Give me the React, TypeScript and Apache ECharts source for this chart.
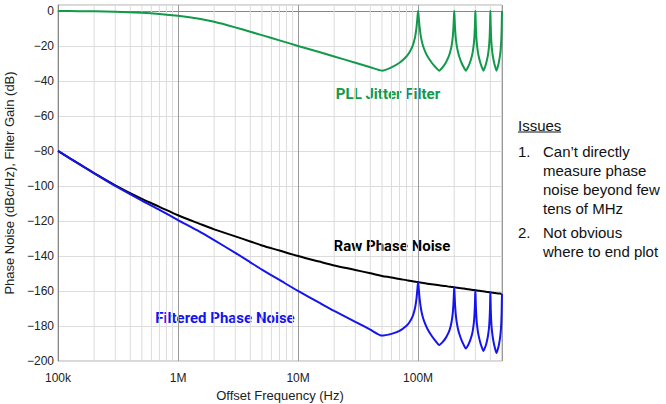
import React, { useEffect, useRef } from "react";
import * as echarts from "echarts";

// Offset frequency grid, in MHz
const freqMHz = [
  0.1, 0.15, 0.2, 0.3, 0.5, 0.7, 1, 1.5, 2, 3, 4, 5, 7, 10, 15, 20, 30, 40, 50,
  60, 70, 80, 85, 90, 93, 95, 97, 98, 99, 100,
  101, 102, 103, 105, 107, 110, 115, 120, 130, 140, 150, 160, 170, 180, 185, 190, 193, 195, 197, 198, 199, 200,
  201, 202, 203, 205, 207, 210, 215, 220, 230, 240, 250, 260, 270, 280, 285, 290, 293, 295, 297, 298, 299, 300,
  301, 302, 303, 305, 307, 310, 315, 320, 330, 340, 350, 360, 370, 380, 385, 390, 393, 395, 397, 398, 399, 400,
  401, 402, 403, 405, 407, 410, 415, 420, 430, 440, 450, 460, 470, 480, 485, 490, 493, 495, 497, 498, 499, 500,
];

// PLL jitter filter gain (dB)
const filterGain = [
  0, -0.1, -0.2, -0.4, -1.0, -1.7, -2.8, -4.5, -6.2, -9.4, -11.9, -13.8, -16.8, -20, -23.5, -26, -29.6, -32.2, -34.1,
  -32.2, -29.6, -26, -23.5, -20, -16.8, -13.8, -9.4, -6.2, -2.8, 0,
  -2.8, -6.2, -9.4, -13.8, -16.8, -20, -23.5, -26, -29.6, -32.2, -34.1, -32.2, -29.6, -26, -23.5, -20, -16.8, -13.8, -9.4, -6.2, -2.8, 0,
  -2.8, -6.2, -9.4, -13.8, -16.8, -20, -23.5, -26, -29.6, -32.2, -34.1, -32.2, -29.6, -26, -23.5, -20, -16.8, -13.8, -9.4, -6.2, -2.8, 0,
  -2.8, -6.2, -9.4, -13.8, -16.8, -20, -23.5, -26, -29.6, -32.2, -34.1, -32.2, -29.6, -26, -23.5, -20, -16.8, -13.8, -9.4, -6.2, -2.8, 0,
  -2.8, -6.2, -9.4, -13.8, -16.8, -20, -23.5, -26, -29.6, -32.2, -34.1, -32.2, -29.6, -26, -23.5, -20, -16.8, -13.8, -9.4, -6.2, -2.8, 0,
];

// Raw phase noise (dBc/Hz)
const rawNoise = [
  -80, -87.4, -92.6, -99.6, -107.4, -111.9, -116.7, -121.5, -124.8, -128.8, -131.7, -134.0, -136.9, -140.0, -143.2, -145.4, -148.0, -149.9, -151.4,
  -152.3, -153.2, -153.8, -154.2, -154.5, -154.6, -154.7, -154.8, -154.9, -154.9, -155.0,
  -155.0, -155.1, -155.1, -155.2, -155.3, -155.4, -155.6, -155.8, -156.1, -156.4, -156.7, -157.0, -157.2, -157.5, -157.6, -157.7, -157.7, -157.8, -157.8, -157.8, -157.9, -157.9,
  -157.9, -157.9, -158.0, -158.0, -158.0, -158.1, -158.2, -158.3, -158.5, -158.6, -158.8, -159.0, -159.1, -159.3, -159.4, -159.4, -159.5, -159.5, -159.5, -159.6, -159.6, -159.6,
  -159.6, -159.6, -159.6, -159.6, -159.7, -159.7, -159.8, -159.8, -160.0, -160.1, -160.2, -160.3, -160.5, -160.6, -160.6, -160.7, -160.7, -160.7, -160.7, -160.8, -160.8, -160.8,
  -160.8, -160.8, -160.8, -160.8, -160.9, -160.9, -160.9, -161.0, -161.1, -161.2, -161.3, -161.4, -161.5, -161.5, -161.6, -161.6, -161.7, -161.7, -161.7, -161.7, -161.7, -161.7,
];

// Filtered phase noise (dBc/Hz)
const filteredNoise = [
  -80, -87.5, -92.8, -100.0, -108.4, -113.6, -119.5, -126.0, -131.0, -138.2, -143.6, -147.8, -153.7, -160.0, -166.7, -171.4, -177.6, -182.1, -185.5,
  -184.5, -182.8, -179.8, -177.7, -174.5, -171.4, -168.5, -164.2, -161.1, -157.7, -155.0,
  -157.8, -161.3, -164.5, -169.0, -172.1, -175.4, -179.1, -181.8, -185.7, -188.6, -190.8, -189.2, -186.8, -183.5, -181.1, -177.7, -174.5, -171.6, -167.2, -164.0, -160.7, -157.9,
  -160.7, -164.1, -167.4, -171.8, -174.8, -178.1, -181.7, -184.3, -188.1, -190.8, -192.9, -191.2, -188.7, -185.3, -182.9, -179.4, -176.3, -173.3, -168.9, -165.8, -162.4, -159.6,
  -162.4, -165.8, -169.0, -173.4, -176.5, -179.7, -183.3, -185.8, -189.6, -192.3, -194.3, -192.5, -190.1, -186.6, -184.1, -180.7, -177.5, -174.5, -170.1, -167.0, -163.6, -160.8,
  -163.6, -167.0, -170.2, -174.6, -177.7, -180.9, -184.4, -187.0, -190.7, -193.4, -195.4, -193.6, -191.1, -187.5, -185.1, -181.6, -178.5, -175.5, -171.1, -167.9, -164.5, -161.7,
];

// Minor (2..9 per decade) vertical grid frequencies, Hz
const minorFreqs = [
  2e5, 3e5, 4e5, 5e5, 6e5, 7e5, 8e5, 9e5,
  2e6, 3e6, 4e6, 5e6, 6e6, 7e6, 8e6, 9e6,
  2e7, 3e7, 4e7, 5e7, 6e7, 7e7, 8e7, 9e7,
  2e8, 3e8, 4e8,
];

const xTickLabels: Record<number, string> = { 5: "100k", 6: "1M", 7: "10M", 8: "100M" };

const issuesLines = [
  { num: "1.", text: "Can\u2019t directly", y: 151 },
  { num: "", text: "measure phase", y: 170 },
  { num: "", text: "noise beyond few", y: 189 },
  { num: "", text: "tens of MHz", y: 208 },
  { num: "2.", text: "Not obvious", y: 232 },
  { num: "", text: "where to end plot", y: 251 },
];

const Y_MIN = -200;
const Y_MAX = 3.4;

export default function App() {
  const ref = useRef<HTMLDivElement>(null);
  useEffect(() => {
    if (!ref.current) return;
    const chart = echarts.init(ref.current, undefined, { renderer: "svg" });
    const toPairs = (vals: number[]) => freqMHz.map((f, i) => [f * 1e6, vals[i]]);
    const textFont = "Liberation Sans, Arial, sans-serif";
    const graphics: any[] = [
      {
        type: "text",
        x: 518,
        y: 125,
        style: { text: "Issues", fontSize: 15, fontFamily: textFont, fill: "#111", verticalAlign: "middle" },
      },
      {
        type: "line",
        shape: { x1: 518, y1: 132, x2: 561, y2: 132 },
        style: { stroke: "#111", lineWidth: 1 },
      },
    ];
    issuesLines.forEach((l) => {
      if (l.num) {
        graphics.push({
          type: "text",
          x: 518,
          y: l.y,
          style: { text: l.num, fontSize: 15, fontFamily: textFont, fill: "#111", verticalAlign: "middle" },
        });
      }
      graphics.push({
        type: "text",
        x: 543,
        y: l.y,
        style: { text: l.text, fontSize: 15, fontFamily: textFont, fill: "#111", verticalAlign: "middle" },
      });
    });
    graphics.push(
      {
        type: "text",
        x: 388,
        y: 94,
        style: { text: "PLL Jitter Filter", fontSize: 15, fontWeight: "bold", fontFamily: "Roboto", fill: "#119a4a", align: "center", verticalAlign: "middle" },
      },
      {
        type: "text",
        x: 392,
        y: 246,
        style: { text: "Raw Phase Noise", fontSize: 15, fontWeight: "bold", fontFamily: "Roboto", fill: "#000", align: "center", verticalAlign: "middle" },
      },
      {
        type: "text",
        x: 225,
        y: 318,
        style: { text: "Filtered Phase Noise", fontSize: 15, fontWeight: "bold", fontFamily: "Roboto", fill: "#1414f0", align: "center", verticalAlign: "middle" },
      }
    );

    chart.setOption({
      animation: false,
      grid: {
        left: 58,
        right: 164,
        top: 5,
        bottom: 43,
        containLabel: false,
        outerBoundsMode: "none",
        show: true,
        borderColor: "#b0b0b0",
        borderWidth: 1,
      },
      xAxis: {
        type: "log",
        logBase: 10,
        min: 1e5,
        max: 5e8,
        name: "Offset Frequency (Hz)",
        nameLocation: "middle",
        nameGap: 28,
        nameTextStyle: { fontSize: 13, color: "#222", fontFamily: textFont },
        axisLine: { show: true, lineStyle: { color: "#888", width: 1 } },
        axisTick: { show: false },
        axisLabel: {
          fontSize: 12,
          color: "#222",
          fontFamily: textFont,
          margin: 11,
          showMaxLabel: false,
          formatter: (v: number) => {
            const e = Math.log10(v);
            const r = Math.round(e);
            return Math.abs(e - r) < 1e-6 && xTickLabels[r] ? xTickLabels[r] : "";
          },
        },
        splitLine: { show: true, lineStyle: { color: "#9a9a9a", width: 1 } },
      },
      yAxis: {
        type: "value",
        min: Y_MIN,
        max: Y_MAX,
        interval: 20,
        name: "Phase Noise (dBc/Hz), Filter Gain (dB)",
        nameLocation: "middle",
        nameGap: 40,
        nameTextStyle: { fontSize: 13, color: "#222", fontFamily: textFont },
        axisLine: { show: true, lineStyle: { color: "#888", width: 1 } },
        axisTick: { show: false },
        axisLabel: {
          fontSize: 12,
          color: "#222",
          fontFamily: textFont,
          margin: 4,
          formatter: (v: number) => {
            if (Math.abs(v % 20) > 1e-6) return "";
            if (v === 0) return "0";
            return v < 0 ? "\u2212" + Math.abs(v) : String(v);
          },
        },
        splitLine: { show: true, lineStyle: { color: "#dcdcdc", width: 1 } },
      },
      series: [
        {
          type: "custom",
          z: 1,
          silent: true,
          data: minorFreqs.map((f) => [f, 0]),
          encode: { x: 0, y: 1 },
          renderItem: (params: any, api: any) => {
            const x = api.value(0);
            const p1 = api.coord([x, Y_MAX]);
            const p2 = api.coord([x, Y_MIN]);
            return {
              type: "line",
              shape: { x1: p1[0], y1: p1[1], x2: p2[0], y2: p2[1] },
              style: { stroke: "#dcdcdc", lineWidth: 1 },
            };
          },
        },
        {
          name: "PLL Jitter Filter",
          type: "line",
          z: 3,
          data: toPairs(filterGain),
          showSymbol: false,
          smooth: 0.2,
          lineStyle: { color: "#119a4a", width: 2 },
        },
        {
          name: "Raw Phase Noise",
          type: "line",
          z: 3,
          data: toPairs(rawNoise),
          showSymbol: false,
          smooth: 0.3,
          lineStyle: { color: "#000000", width: 2 },
        },
        {
          name: "Filtered Phase Noise",
          type: "line",
          z: 4,
          data: toPairs(filteredNoise),
          showSymbol: false,
          smooth: 0.2,
          lineStyle: { color: "#1414f0", width: 2 },
        },
      ],
      graphic: graphics,
    });
    return () => chart.dispose();
  }, []);
  return (
    <div
      ref={ref}
      style={{ position: "fixed", left: 0, top: 0, width: 666, height: 404, background: "#fff" }}
    />
  );
}
